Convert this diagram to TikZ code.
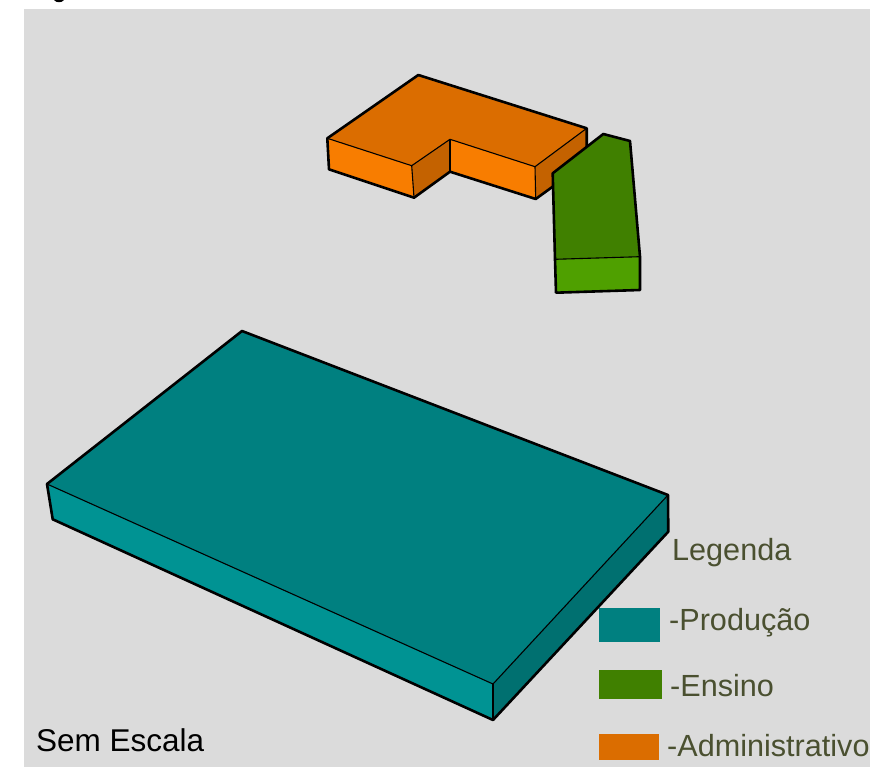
\documentclass[tikz,border=0pt]{standalone}
\usepackage{fontspec}
\setmainfont{Liberation Sans}
\definecolor{bgc}{HTML}{DBDBDB}
\definecolor{tealtop}{HTML}{008080}
\definecolor{tealfront}{HTML}{009393}
\definecolor{tealside}{HTML}{007070}
\definecolor{orgtop}{HTML}{DB6D00}
\definecolor{orgfront}{HTML}{F87D00}
\definecolor{orgside}{HTML}{C46200}
\definecolor{grntop}{HTML}{408000}
\definecolor{grnfront}{HTML}{4FA000}
\definecolor{legtext}{HTML}{4A5030}
\tikzset{
  outer/.style={draw=black,line width=2.6pt,line join=round},
  inner/.style={draw=black,line width=1.1pt,line join=round},
  legendtext/.style={anchor=base west,inner sep=0pt,text=legtext,font=\fontsize{30.6pt}{34pt}\selectfont},
  swatch/.style={anchor=north west,inner sep=0pt,minimum width=#1,draw=none}
}
\begin{document}
\begin{tikzpicture}[x=1pt,y=-1pt]
\useasboundingbox (0,0) rectangle (870,767);
\fill[white] (0,0) rectangle (870,767);
\fill[bgc] (24,9) rectangle (870,767);
\fill[black] (54,0) .. controls (56,3) and (62,3) .. (64,0) -- cycle;
% teal block
\fill[tealfront] (47,484) -- (493,684) -- (493,720) -- (52.7,519.3) -- cycle;
\fill[tealside] (493,684) -- (668,495) -- (668.3,531.7) -- (493,720) -- cycle;
\fill[tealtop] (47,484) -- (242,331) -- (668,495) -- (493,684) -- cycle;
\draw[inner] (47,484) -- (493,684) -- (668,495);
\draw[inner] (493,684) -- (493,720);
\draw[outer] (47,484) -- (242,331) -- (668,495) -- (668.3,531.7) -- (493,720) -- (52.7,519.3) -- cycle;
% orange block
\fill[orgfront] (327.3,138.3) -- (411.7,165.7) -- (414,197.7) -- (329,169.3) -- cycle;
\fill[orgfront] (450,139.3) -- (535,166.7) -- (535.7,199) -- (450,171.7) -- cycle;
\fill[orgside] (411.7,165.7) -- (450,139.3) -- (450,171.7) -- (414,197.7) -- cycle;
\fill[orgside] (535,166.7) -- (586.7,128.3) -- (586.7,160) -- (535.7,199) -- cycle;
\fill[orgtop] (327.3,138.3) -- (418.3,75) -- (586.7,128.3) -- (535,166.7) -- (450,139.3) -- (411.7,165.7) -- cycle;
\draw[inner] (327.3,138.3) -- (411.7,165.7) -- (450,139.3) -- (535,166.7) -- (586.7,128.3);
\draw[inner] (411.7,165.7) -- (414,197.7);
\draw[inner] (450,139.3) -- (450,171.7);
\draw[inner] (535,166.7) -- (535.7,199);
\draw[outer] (586.7,160) -- (586.7,128.3) -- (418.3,75) -- (327.3,138.3) -- (329,169.3) -- (414,197.7) -- (450,171.7) -- (535.7,199) -- (555,185);
% green block
\fill[grnfront] (555,259.3) -- (640,256.7) -- (640,290) -- (556,292.7) -- cycle;
\fill[grntop] (552.7,173.3) -- (603.3,134) -- (630,141) -- (640,256.7) -- (555,259.3) -- cycle;
\draw[inner] (555,259.3) -- (640,256.7);
\draw[outer] (552.7,173.3) -- (603.3,134) -- (630,141) -- (640,256.7) -- (640,290) -- (556,292.7) -- (555,259.3) -- cycle;
% legend
\node[legendtext] (leg) at (672,560.7) {Legenda};
\node[swatch=61pt,fill=tealtop,minimum height=34pt] (sp) at (599,608) {};
\node[legendtext] (tp) at (669,630) {-Produção};
\node[swatch=63pt,fill=grntop,minimum height=29pt] (se) at (599,670) {};
\node[legendtext] (te) at (670,696.7) {-Ensino};
\node[swatch=60pt,fill=orgtop,minimum height=26pt] (sa) at (599,734) {};
\node[legendtext] (ta) at (667,756.7) {-Administrativo};
\node[anchor=base west,inner sep=0pt,text=black,font=\fontsize{31.5pt}{35pt}\selectfont] (esc) at (36,751.7) {Sem Escala};
\end{tikzpicture}
\end{document}
